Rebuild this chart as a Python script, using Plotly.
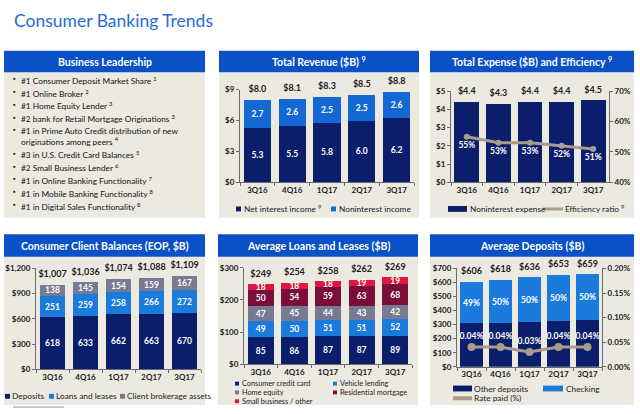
import plotly.graph_objects as go

W, H = 640, 414

# ---------------- data ----------------
quarters = ["3Q16", "4Q16", "1Q17", "2Q17", "3Q17"]

leadership_items = [
    "#1 Consumer Deposit Market Share <sup>1</sup>",
    "#1 Online Broker <sup>2</sup>",
    "#1 Home Equity Lender <sup>3</sup>",
    "#2 bank for Retail Mortgage Originations <sup>3</sup>",
    "#1 in Prime Auto Credit distribution of new<br>originations among peers <sup>4</sup>",
    "#3 in U.S. Credit Card Balances <sup>5</sup>",
    "#2 Small Business Lender <sup>6</sup>",
    "#1 in Online Banking Functionality <sup>7</sup>",
    "#1 in Mobile Banking Functionality <sup>8</sup>",
    "#1 in Digital Sales Functionality <sup>8</sup>",
]

rev_nii = [5.3, 5.5, 5.8, 6.0, 6.2]
rev_nonii = [2.7, 2.6, 2.5, 2.5, 2.6]
rev_total = [8.0, 8.1, 8.3, 8.5, 8.8]

exp_nonint = [4.4, 4.3, 4.4, 4.4, 4.5]
eff_ratio = [55, 53, 53, 52, 51]

bal_deposits = [618, 633, 662, 663, 670]
bal_loans = [251, 259, 258, 266, 272]
bal_brokerage = [138, 145, 154, 159, 167]
bal_total = [1007, 1036, 1074, 1088, 1109]

loan_card = [85, 86, 87, 87, 89]
loan_vehicle = [49, 50, 51, 51, 52]
loan_home_equity = [47, 45, 44, 43, 42]
loan_mortgage = [50, 54, 59, 63, 68]
loan_small_biz = [18, 18, 18, 19, 19]
loan_total = [249, 254, 258, 262, 269]

dep_other = [309, 309, 318, 327, 330]
dep_checking = [297, 309, 318, 326, 329]
dep_checking_share = ["49%", "50%", "50%", "50%", "50%"]
dep_total = [606, 618, 636, 653, 659]
dep_rate = [0.04, 0.04, 0.03, 0.04, 0.04]

# ---------------- style ----------------
FONT = "Lato"
NAVY = "#0B1E6B"
BLUE = "#1468D4"
LBLUE = "#1A7BDD"
GRAY = "#767A92"
MAROON = "#7A0E38"
RED = "#E0163E"
LINEC = "#A89C8C"
HEADER = "#0A50C6"
PANEL = "#ECE9E1"
AXIS = "#6b6b6b"
TXT = "#1b1b1b"

TICKFONT = dict(family=FONT, size=8, color=TXT, weight="bold")
INFONT = dict(family=FONT, size=8.5, color="white", weight="bold")
TOTFONT = dict(family=FONT, size=9, color=TXT, weight="bold")


def fx(x):
    return x / W


def fy(y):
    return 1 - y / H


def xaxis_cfg(x0, x1, anchor):
    return dict(domain=[fx(x0), fx(x1)], anchor=anchor, type="category",
                showline=True, linecolor=AXIS, linewidth=1, ticks="outside",
                tickson="boundaries", ticklen=3, tickcolor=AXIS, tickangle=0,
                tickfont=TICKFONT, showgrid=False, zeroline=False,
                fixedrange=True)


def yaxis_cfg(ybot, ytop, anchor, rng, dtick, prefix="", suffix="",
              fmt=None, side="left", overlaying=None):
    d = dict(anchor=anchor, range=rng, dtick=dtick, tick0=rng[0],
             tickprefix=prefix, ticksuffix=suffix, showline=True,
             linecolor=AXIS, linewidth=1, ticks="outside", ticklen=3,
             tickcolor=AXIS, tickfont=TICKFONT, showgrid=False,
             zeroline=False, side=side, fixedrange=True)
    if fmt:
        d["tickformat"] = fmt
    if overlaying:
        d["overlaying"] = overlaying
    else:
        d["domain"] = [fy(ybot), fy(ytop)]
    return d


def bar(y, color, xa, ya, text=None):
    b = go.Bar(x=quarters, y=y, marker=dict(color=color, line=dict(width=0)),
               xaxis=xa, yaxis=ya, hoverinfo="skip", showlegend=False)
    if text is not None:
        b.update(text=text, textposition="inside", insidetextanchor="middle",
                 textangle=0, textfont=INFONT, constraintext="none")
    else:
        b.update(textposition="none")
    return b


def totals(vals, labels, xa, ya):
    return go.Scatter(x=quarters, y=vals, mode="markers+text", text=labels,
                      marker=dict(size=7, color="rgba(0,0,0,0)"),
                      textposition="top center", textfont=TOTFONT,
                      xaxis=xa, yaxis=ya, cliponaxis=False,
                      hoverinfo="skip", showlegend=False)


fig = go.Figure()

# Total revenue
fig.add_trace(bar(rev_nii, NAVY, "x", "y", [f"{v:.1f}" for v in rev_nii]))
fig.add_trace(bar(rev_nonii, BLUE, "x", "y", [f"{v:.1f}" for v in rev_nonii]))
fig.add_trace(totals(rev_total, [f"${v:.1f}" for v in rev_total], "x", "y"))

# Total expense and efficiency
fig.add_trace(bar(exp_nonint, NAVY, "x2", "y2"))
fig.add_trace(totals(exp_nonint, [f"${v:.1f}" for v in exp_nonint], "x2", "y2"))
fig.add_trace(go.Scatter(x=quarters, y=eff_ratio, mode="lines+markers+text",
                         line=dict(color=LINEC, width=3),
                         marker=dict(size=6, color=LINEC),
                         text=[f"{v}%" for v in eff_ratio],
                         textposition="bottom center", textfont=INFONT,
                         xaxis="x2", yaxis="y3", cliponaxis=False,
                         hoverinfo="skip", showlegend=False))

# Consumer client balances
fig.add_trace(bar(bal_deposits, NAVY, "x3", "y4", [str(v) for v in bal_deposits]))
fig.add_trace(bar(bal_loans, LBLUE, "x3", "y4", [str(v) for v in bal_loans]))
fig.add_trace(bar(bal_brokerage, GRAY, "x3", "y4", [str(v) for v in bal_brokerage]))
fig.add_trace(totals(bal_total, [f"${v:,}" for v in bal_total], "x3", "y4"))

# Average loans and leases
for vals, col in [(loan_card, NAVY), (loan_vehicle, LBLUE),
                  (loan_home_equity, GRAY), (loan_mortgage, MAROON),
                  (loan_small_biz, RED)]:
    fig.add_trace(bar(vals, col, "x4", "y5", [str(v) for v in vals]))
fig.add_trace(totals(loan_total, [f"${v}" for v in loan_total], "x4", "y5"))

# Average deposits
fig.add_trace(bar(dep_other, NAVY, "x5", "y6"))
fig.add_trace(bar(dep_checking, LBLUE, "x5", "y6", dep_checking_share))
fig.add_trace(totals(dep_total, [f"${v}" for v in dep_total], "x5", "y6"))
fig.add_trace(go.Scatter(x=quarters, y=dep_rate, mode="lines+markers+text",
                         line=dict(color=LINEC, width=3),
                         marker=dict(size=8, color=LINEC),
                         text=[f"{v:.2f}%" for v in dep_rate],
                         textposition="top center", textfont=INFONT,
                         xaxis="x5", yaxis="y7", cliponaxis=False,
                         hoverinfo="skip", showlegend=False))

# ---------------- panels ----------------
shapes = []
annotations = []

panels = [
    # x0, x1, header_top, header_bottom, body_bottom, title
    (4, 205, 47, 69, 218, "Business Leadership"),
    (219, 419, 47, 69, 218, "Total Revenue ($B) <sup>9</sup>"),
    (430, 634, 47, 69, 218, "Total Expense ($B) and Efficiency <sup>9</sup>"),
    (4, 205, 235, 258, 410, "Consumer Client Balances (EOP, $B)"),
    (218, 418, 235, 258, 410, "Average Loans and Leases ($B)"),
    (430, 634, 235, 258, 410, "Average Deposits ($B)"),
]
for x0, x1, ht, hb, bb, title in panels:
    shapes.append(dict(type="rect", xref="paper", yref="paper", x0=fx(x0), x1=fx(x1),
                       y0=fy(bb), y1=fy(hb), fillcolor=PANEL, line=dict(width=0),
                       layer="below"))
    shapes.append(dict(type="rect", xref="paper", yref="paper", x0=fx(x0), x1=fx(x1),
                       y0=fy(hb), y1=fy(ht), fillcolor=HEADER, line=dict(width=0),
                       layer="below"))
    annotations.append(dict(x=fx((x0 + x1) / 2), y=fy((ht + hb) / 2), xref="paper",
                            yref="paper", text=title, showarrow=False,
                            xanchor="center", yanchor="middle",
                            font=dict(family=FONT, size=10.5, color="white",
                                      weight="bold")))

# Page title
annotations.append(dict(x=fx(12), y=fy(16), xref="paper", yref="paper",
                        text="Consumer Banking Trends", showarrow=False,
                        xanchor="left", yanchor="middle",
                        font=dict(family=FONT, size=17.5, color="#1F6ED6")))

# Business leadership list
ycur = 75
for item in leadership_items:
    annotations.append(dict(x=fx(11), y=fy(ycur), xref="paper", yref="paper",
                            text="\u25aa", showarrow=False, xanchor="left",
                            yanchor="middle",
                            font=dict(family=FONT, size=7, color=TXT)))
    nlines = item.count("<br>") + 1
    annotations.append(dict(x=fx(19), y=fy(ycur - 5.5), xref="paper", yref="paper",
                            text=item, showarrow=False, xanchor="left",
                            yanchor="top", align="left",
                            font=dict(family=FONT, size=8.3, color="#111111")))
    ycur += 13.1 + (nlines - 1) * 11


# ---------------- legends ----------------
def sq(x, y, color, w=5, h=5):
    shapes.append(dict(type="rect", xref="paper", yref="paper",
                       x0=fx(x), x1=fx(x + w), y0=fy(y + h / 2), y1=fy(y - h / 2),
                       fillcolor=color, line=dict(width=0)))


def ln(x, y, color, w=19, width=3):
    shapes.append(dict(type="line", xref="paper", yref="paper",
                       x0=fx(x), x1=fx(x + w), y0=fy(y), y1=fy(y),
                       line=dict(color=color, width=width)))


def lbl(x, y, text, size=8.3):
    annotations.append(dict(x=fx(x), y=fy(y), xref="paper", yref="paper",
                            text=text, showarrow=False, xanchor="left",
                            yanchor="middle",
                            font=dict(family=FONT, size=size, color=TXT)))


# revenue legend
sq(236, 209, NAVY)
lbl(242, 209, "Net interest income <sup>9</sup>")
sq(331, 209, BLUE)
lbl(337, 209, "Noninterest income")

# expense legend
sq(448, 209, NAVY, w=19, h=6)
lbl(468, 209, "Noninterest expense")
ln(543, 209, LINEC, w=20, width=3)
lbl(563, 209, "Efficiency ratio <sup>9</sup>")

# balances legend
sq(5, 401, NAVY)
lbl(10, 401, "Deposits")
sq(49, 401, LBLUE)
lbl(54, 401, "Loans and leases")
sq(120, 401, GRAY)
lbl(125, 401, "Client brokerage assets")

# loans legend
LS = 7.3
sq(235, 388, NAVY, w=4, h=4)
lbl(240, 388, "Consumer credit card", LS)
sq(333, 388, LBLUE, w=4, h=4)
lbl(338, 388, "Vehicle lending", LS)
sq(235, 397, GRAY, w=4, h=4)
lbl(240, 397, "Home equity", LS)
sq(333, 397, MAROON, w=4, h=4)
lbl(338, 397, "Residential mortgage", LS)
sq(235, 406, RED, w=4, h=4)
lbl(240, 406, "Small business / other", LS)

# deposits legend
sq(453, 393, NAVY, w=19, h=6)
lbl(472, 393, "Other deposits")
sq(543, 393, LBLUE, w=20, h=6)
lbl(564, 393, "Checking")
ln(453, 403, LINEC, w=19, width=4)
lbl(472, 403, "Rate paid (%)")

# footnote separator
shapes.append(dict(type="line", xref="paper", yref="paper", x0=fx(13), x1=fx(64),
                   y0=fy(412), y1=fy(412), line=dict(color="#999999", width=1)))

fig.update_layout(
    width=W, height=H, margin=dict(l=0, r=0, t=0, b=0),
    paper_bgcolor="white", plot_bgcolor="rgba(0,0,0,0)",
    barmode="stack", bargap=0.22, showlegend=False,
    font=dict(family=FONT, color=TXT),
    uniformtext=dict(minsize=8.5, mode="show"),
    shapes=shapes, annotations=annotations,
    xaxis=xaxis_cfg(240, 414, "y"),
    yaxis=yaxis_cfg(181.7, 86.7, "x", [0, 9], 3, prefix="$"),
    xaxis2=xaxis_cfg(451, 609, "y2"),
    yaxis2=yaxis_cfg(181.7, 88.3, "x2", [0, 5], 1, prefix="$"),
    yaxis3=yaxis_cfg(181.7, 88.3, "x2", [40, 70], 10, suffix="%", side="right",
                     overlaying="y2"),
    xaxis3=xaxis_cfg(36, 201, "y4"),
    yaxis4=yaxis_cfg(373.3, 270, "x3", [0, 1200], 300, prefix="$", fmt=",d"),
    xaxis4=xaxis_cfg(244, 412, "y5"),
    yaxis5=yaxis_cfg(368.3, 269.3, "x4", [0, 300], 100, prefix="$"),
    xaxis5=xaxis_cfg(457, 602, "y6"),
    yaxis6=yaxis_cfg(370.7, 270, "x5", [0, 700], 100, prefix="$"),
    yaxis7=yaxis_cfg(370.7, 270, "x5", [0, 0.2], 0.05, suffix="%", fmt=".2f",
                     side="right", overlaying="y6"),
)

fig.write_html("out.html",
               config={"displayModeBar": False, "staticPlot": True},
               post_script="document.body.style.margin='0px';"
                           "document.body.style.overflow='hidden';")
